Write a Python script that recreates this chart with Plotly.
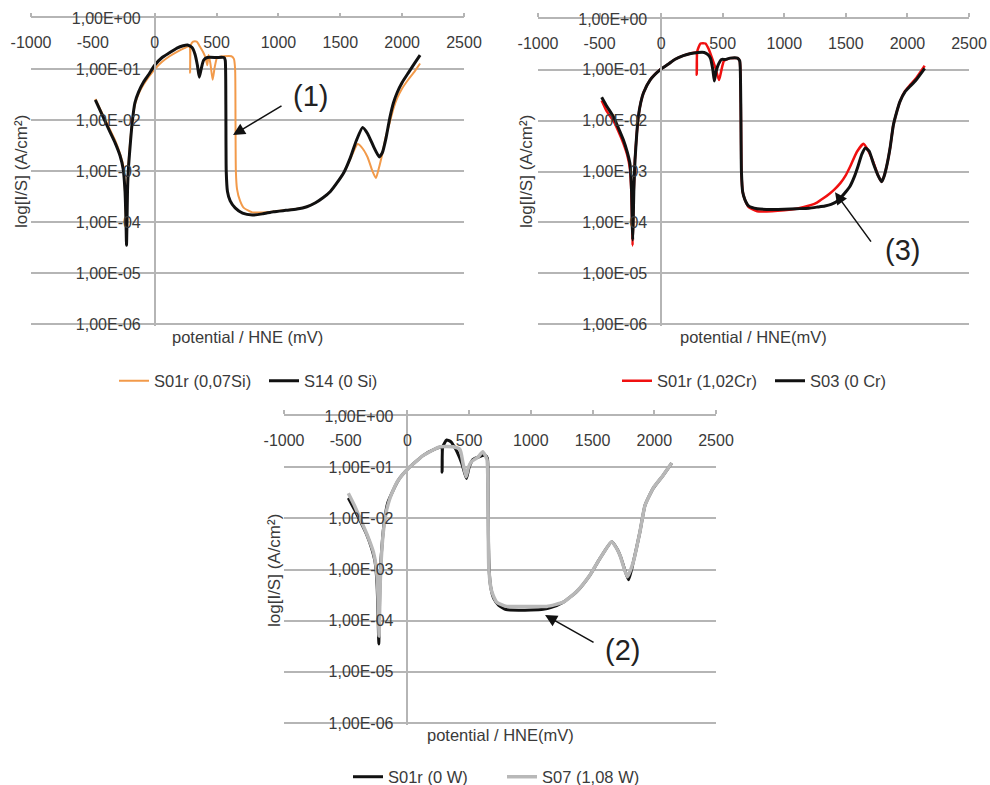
import plotly.graph_objects as go

# ---------------- data (potential in mV, current density in A/cm2) ----------------
# Top-left panel: Si effect
tl_s01r_mv = [-480, -420, -370, -320, -280, -255, -242, -234, -230, -226, -221, -213, -196, -180, -160, -130, -90, -50, 0, 60, 120, 180, 240, 280, 286, 292, 310, 340, 365, 390, 410, 425, 435, 450, 468, 485, 505, 560, 620, 640, 650, 653, 656, 665, 690, 720, 790, 870, 960, 1060, 1150, 1230, 1300, 1360, 1420, 1480, 1530, 1580, 1640, 1670, 1720, 1760, 1788, 1810, 1840, 1870, 1900, 1930, 1960, 2000, 2050, 2100, 2145]
tl_s01r_i = [2.6e-2, 1.3e-2, 7.2e-3, 4e-3, 2.2e-3, 1.3e-3, 5e-4, 1.2e-4, 5e-5, 1.2e-4, 5e-4, 1.4e-3, 4.5e-3, 1e-2, 2e-2, 3.3e-2, 5e-2, 7e-2, 0.10, 0.14, 0.18, 0.22, 0.26, 0.28, 0.085, 0.30, 0.35, 0.35, 0.28, 0.22, 0.17, 0.12, 0.19, 0.13, 0.062, 0.11, 0.17, 0.18, 0.18, 0.16, 0.10, 1e-2, 1e-3, 4.5e-4, 2.6e-4, 1.9e-4, 1.55e-4, 1.55e-4, 1.62e-4, 1.72e-4, 1.82e-4, 2.0e-4, 2.4e-4, 3.0e-4, 4.0e-4, 6.2e-4, 9.5e-4, 1.7e-3, 3.4e-3, 3.0e-3, 1.9e-3, 1.0e-3, 7.3e-4, 1.1e-3, 2.2e-3, 5e-3, 9e-3, 1.7e-2, 2.7e-2, 4.2e-2, 6.3e-2, 9e-2, 0.13]

tl_s14_mv = [-480, -420, -370, -320, -280, -255, -240, -232, -228, -224, -220, -212, -195, -180, -160, -130, -90, -50, 0, 60, 120, 180, 230, 265, 300, 325, 345, 360, 375, 395, 425, 500, 560, 570, 575, 578, 588, 610, 650, 710, 790, 870, 960, 1060, 1150, 1230, 1300, 1360, 1420, 1480, 1530, 1580, 1630, 1680, 1720, 1770, 1815, 1840, 1870, 1900, 1930, 1960, 2000, 2050, 2100, 2145]
tl_s14_i = [2.5e-2, 1.2e-2, 6.5e-3, 3.6e-3, 2.0e-3, 1.1e-3, 4e-4, 1e-4, 3.5e-5, 1e-4, 4e-4, 1.2e-3, 4e-3, 1e-2, 2.2e-2, 3.6e-2, 5.6e-2, 7.8e-2, 0.12, 0.17, 0.21, 0.26, 0.29, 0.30, 0.27, 0.20, 0.12, 0.07, 0.10, 0.15, 0.17, 0.17, 0.17, 0.15, 0.02, 1e-3, 4e-4, 2.6e-4, 1.9e-4, 1.5e-4, 1.38e-4, 1.45e-4, 1.6e-4, 1.7e-4, 1.8e-4, 2.0e-4, 2.4e-4, 3.0e-4, 4.0e-4, 6.2e-4, 9.5e-4, 1.8e-3, 4e-3, 7.2e-3, 5.5e-3, 3e-3, 1.9e-3, 2.3e-3, 4.5e-3, 1.1e-2, 2.2e-2, 3.5e-2, 5.5e-2, 8.5e-2, 0.13, 0.19]

# Top-right panel: Cr effect
tr_s01r_mv = [-483, -440, -388, -345, -307, -275, -255, -242, -236, -232, -228, -223, -213, -198, -185, -165, -144, -90, -9, 60, 110, 180, 240, 285, 289, 293, 320, 360, 385, 410, 440, 470, 490, 510, 560, 620, 638, 645, 648, 652, 662, 680, 710, 780, 900, 1000, 1100, 1160, 1220, 1265, 1320, 1370, 1410, 1455, 1500, 1535, 1590, 1643, 1680, 1724, 1760, 1790, 1810, 1835, 1860, 1885, 1910, 1940, 1980, 2020, 2070, 2140]
tr_s01r_i = [2.5e-2, 1.5e-2, 1e-2, 6e-3, 3.6e-3, 2.1e-3, 1.2e-3, 4e-4, 1e-4, 3.5e-5, 1e-4, 4e-4, 1.7e-3, 5.5e-3, 1.2e-2, 2.3e-2, 3.5e-2, 6.3e-2, 0.10, 0.13, 0.16, 0.19, 0.21, 0.22, 0.08, 0.23, 0.33, 0.33, 0.26, 0.18, 0.11, 0.063, 0.10, 0.15, 0.17, 0.17, 0.15, 0.05, 1e-2, 1e-3, 4e-4, 2.8e-4, 2.0e-4, 1.65e-4, 1.65e-4, 1.72e-4, 1.85e-4, 2.0e-4, 2.2e-4, 2.45e-4, 3.0e-4, 3.7e-4, 4.5e-4, 5.9e-4, 8.5e-4, 1.25e-3, 2.45e-3, 3.5e-3, 2.6e-3, 1.5e-3, 8.5e-4, 6.3e-4, 8e-4, 1.4e-3, 3e-3, 8e-3, 1.4e-2, 2.4e-2, 3.8e-2, 5e-2, 6.8e-2, 0.12]

tr_s03_mv = [-483, -440, -388, -345, -307, -275, -253, -240, -235, -231, -227, -222, -212, -198, -185, -165, -144, -90, -9, 60, 110, 180, 240, 300, 350, 380, 400, 420, 432, 445, 460, 490, 520, 560, 620, 638, 645, 648, 652, 662, 680, 710, 780, 900, 1000, 1100, 1200, 1270, 1330, 1380, 1420, 1455, 1500, 1535, 1570, 1600, 1630, 1660, 1690, 1725, 1760, 1790, 1810, 1835, 1860, 1885, 1910, 1940, 1980, 2020, 2070, 2140]
tr_s03_i = [2.9e-2, 1.9e-2, 1.2e-2, 7e-3, 4.2e-3, 2.4e-3, 1.4e-3, 4e-4, 1e-4, 4.5e-5, 1e-4, 4e-4, 1.7e-3, 5.5e-3, 1.2e-2, 2.3e-2, 3.5e-2, 6.3e-2, 0.10, 0.13, 0.16, 0.19, 0.21, 0.22, 0.22, 0.20, 0.17, 0.10, 0.06, 0.09, 0.12, 0.16, 0.16, 0.17, 0.17, 0.15, 0.05, 1e-2, 1e-3, 4e-4, 2.8e-4, 2.1e-4, 1.85e-4, 1.78e-4, 1.8e-4, 1.85e-4, 1.9e-4, 2.0e-4, 2.1e-4, 2.25e-4, 2.5e-4, 3.0e-4, 4.0e-4, 5.2e-4, 8e-4, 1.3e-3, 2.2e-3, 2.9e-3, 2.5e-3, 1.4e-3, 8.5e-4, 6.3e-4, 8e-4, 1.4e-3, 3e-3, 8e-3, 1.4e-2, 2.4e-2, 3.7e-2, 4.7e-2, 6.3e-2, 0.107]

# Bottom panel: W effect
bt_s01r_mv = [-479, -430, -384, -330, -290, -262, -246, -237, -232, -228, -223, -214, -200, -185, -160, -141, -73, 8, 129, 230, 276, 281, 286, 318, 355, 380, 402, 440, 478, 500, 530, 580, 630, 648, 653, 656, 662, 675, 700, 740, 800, 900, 1000, 1100, 1160, 1263, 1371, 1479, 1560, 1655, 1700, 1730, 1760, 1792, 1830, 1884, 1925, 1992, 2073, 2141]
bt_s01r_i = [2.5e-2, 1.5e-2, 9e-3, 4.8e-3, 2.6e-3, 1.4e-3, 5e-4, 1e-4, 3.5e-5, 1e-4, 5e-4, 1.6e-3, 4.5e-3, 9.5e-3, 2e-2, 2.6e-2, 5.6e-2, 0.095, 0.17, 0.23, 0.25, 0.08, 0.25, 0.34, 0.31, 0.25, 0.20, 0.12, 0.06, 0.10, 0.14, 0.16, 0.17, 0.15, 5e-2, 5e-3, 1e-3, 4.5e-4, 2.7e-4, 2e-4, 1.65e-4, 1.6e-4, 1.62e-4, 1.68e-4, 1.8e-4, 2.3e-4, 3.7e-4, 7.8e-4, 1.65e-3, 3.5e-3, 2.5e-3, 1.7e-3, 1e-3, 6.3e-4, 1.4e-3, 5.5e-3, 1.8e-2, 3.9e-2, 7e-2, 0.12]

bt_s07_mv = [-479, -430, -384, -330, -276, -255, -242, -234, -230, -226, -221, -212, -195, -170, -141, -110, -73, 8, 129, 264, 372, 426, 450, 475, 495, 521, 575, 610, 630, 645, 652, 655, 660, 683, 723, 804, 939, 1128, 1263, 1371, 1479, 1560, 1655, 1690, 1722, 1782, 1830, 1884, 1925, 1992, 2073, 2141]
bt_s07_i = [3.1e-2, 1.8e-2, 1e-2, 5e-3, 2.2e-3, 1.2e-3, 5e-4, 1.2e-4, 5e-5, 1.2e-4, 5e-4, 1.6e-3, 5.5e-3, 1.4e-2, 2.5e-2, 3.8e-2, 5.6e-2, 0.095, 0.17, 0.25, 0.25, 0.22, 0.12, 0.065, 0.10, 0.13, 0.16, 0.20, 0.17, 0.14, 0.05, 5e-3, 1e-3, 3.7e-4, 2.3e-4, 1.9e-4, 1.9e-4, 1.9e-4, 2.3e-4, 3.7e-4, 7.8e-4, 1.65e-3, 3.5e-3, 2.7e-3, 1.9e-3, 7.2e-4, 1.4e-3, 5.5e-3, 1.8e-2, 3.9e-2, 7e-2, 0.12]

# axis ticks
x_tickvals = [-1000, -500, 0, 500, 1000, 1500, 2000, 2500]
x_ticktext = ["-1000", "-500", "0", "500", "1000", "1500", "2000", "2500"]
y_tickvals = [1e-6, 1e-5, 1e-4, 1e-3, 1e-2, 1e-1, 1e0]
y_ticktext = ["1,00E-06", "1,00E-05", "1,00E-04", "1,00E-03", "1,00E-02", "1,00E-01", "1,00E+00"]

legend_names = ["S01r (0,07Si)", "S14 (0 Si)", "S01r (1,02Cr)", "S03 (0 Cr)", "S01r (0 W)", "S07 (1,08 W)"]
y_title = "log[I/S] (A/cm²)"
x_titles = ["potential / HNE (mV)", "potential / HNE(mV)", "potential / HNE(mV)"]

# ---------------- figure ----------------
W, H = 990, 785
FONT = "Liberation Sans, Arial, sans-serif"
TXT = "#3a3a3a"
GRID = "#b5b5b5"
FS = 16


def px(v):
    return v / W


def py(v):
    return 1 - v / H


fig = go.Figure()

line_shape = dict(shape="spline", smoothing=0.5)

fig.add_trace(go.Scatter(x=tl_s01r_mv, y=tl_s01r_i, mode="lines", name=legend_names[0],
                         line=dict(color="#F29A4A", width=2, **line_shape), xaxis="x", yaxis="y", legend="legend"))
fig.add_trace(go.Scatter(x=tl_s14_mv, y=tl_s14_i, mode="lines", name=legend_names[1],
                         line=dict(color="#111111", width=3, **line_shape), xaxis="x", yaxis="y", legend="legend"))
fig.add_trace(go.Scatter(x=tr_s01r_mv, y=tr_s01r_i, mode="lines", name=legend_names[2],
                         line=dict(color="#F01010", width=2.5, **line_shape), xaxis="x2", yaxis="y2", legend="legend2"))
fig.add_trace(go.Scatter(x=tr_s03_mv, y=tr_s03_i, mode="lines", name=legend_names[3],
                         line=dict(color="#111111", width=3, **line_shape), xaxis="x2", yaxis="y2", legend="legend2"))
fig.add_trace(go.Scatter(x=bt_s01r_mv, y=bt_s01r_i, mode="lines", name=legend_names[4],
                         line=dict(color="#111111", width=3, **line_shape), xaxis="x3", yaxis="y3", legend="legend3"))
fig.add_trace(go.Scatter(x=bt_s07_mv, y=bt_s07_i, mode="lines", name=legend_names[5],
                         line=dict(color="#B8B8B8", width=3.5, **line_shape), xaxis="x3", yaxis="y3", legend="legend3"))

# panel geometry in pixels: (left, right, top(1e0), bottom(1e-6))
panels = [(31, 464, 18.3, 324), (538, 969, 19, 324), (284, 716, 416, 723)]


def xaxis_cfg(p, anchor):
    l, r, t, b = p
    return dict(domain=[px(l), px(r)], range=[-1000, 2500], side="top", anchor=anchor, automargin=False,
                showgrid=False, zeroline=False, showline=True, linecolor=GRID, linewidth=1.5,
                ticks="outside", ticklen=4, tickcolor=GRID, tickwidth=1.5,
                tickmode="array", tickvals=x_tickvals, ticktext=x_ticktext,
                ticklabelposition="inside", ticklabeloverflow="allow", ticklabelstandoff=19,
                tickfont=dict(family=FONT, size=FS, color=TXT), fixedrange=True)


def yaxis_cfg(p):
    l, r, t, b = p
    dec = (b - t) / 6.0
    ext = 2.0
    lo = -6 - ext / dec
    zero_px = l + (r - l) * 1000 / 3500
    return dict(domain=[py(b + ext), py(t)], type="log", range=[lo, 0], anchor="free", position=px(zero_px),
                automargin=False,
                showgrid=True, gridcolor=GRID, gridwidth=1.5, zeroline=False,
                showline=True, linecolor=GRID, linewidth=1.5, ticks="",
                tickmode="array", tickvals=y_tickvals, ticktext=y_ticktext, ticklabelstandoff=10,
                tickfont=dict(family=FONT, size=FS, color=TXT), fixedrange=True)


def legend_cfg(xpx, ypx, ew):
    return dict(orientation="h", x=px(xpx), xanchor="left", y=py(ypx), yanchor="middle",
                font=dict(family=FONT, size=16.5, color=TXT), bgcolor="rgba(0,0,0,0)",
                entrywidth=ew, entrywidthmode="pixels", itemwidth=30, traceorder="normal")


annotations = []
# axis titles
for (cx, cy), t in zip([(247, 337), (753, 337), (500, 735)], x_titles):
    annotations.append(dict(x=px(cx), y=py(cy), xref="paper", yref="paper", text=t, showarrow=False,
                            xanchor="center", yanchor="middle", font=dict(family=FONT, size=16.5, color=TXT)))
for cx, cy in [(22, 172), (527, 172), (274, 571)]:
    annotations.append(dict(x=px(cx), y=py(cy), xref="paper", yref="paper", text=y_title, showarrow=False,
                            textangle=-90, xanchor="center", yanchor="middle",
                            font=dict(family=FONT, size=17, color=TXT)))

# callout arrows (head / tail positions in data units of each panel) and labels
callouts = [
    ("x", "y", (633, -2.29), (1037, -1.70), "(1)", (1256, -1.52)),
    ("x2", "y2", (1412, -3.41), (1713, -4.41), "(3)", (1956, -4.54)),
    ("x3", "y3", (1115, -3.89), (1520, -4.44), "(2)", (1739, -4.58)),
]
for xr, yr, head, tail, lab, labpos in callouts:
    annotations.append(dict(x=head[0], y=head[1], xref=xr, yref=yr, ax=tail[0], ay=tail[1],
                            axref=xr, ayref=yr, text="", showarrow=True, arrowhead=2, arrowsize=1.6,
                            arrowwidth=1.5, arrowcolor="#111111"))
    annotations.append(dict(x=labpos[0], y=labpos[1], xref=xr, yref=yr, text=lab, showarrow=False,
                            xanchor="center", yanchor="middle",
                            font=dict(family=FONT, size=29, color="#222222")))

fig.update_layout(
    width=W, height=H, margin=dict(l=0, r=0, t=0, b=0, autoexpand=False),
    paper_bgcolor="white", plot_bgcolor="white",
    xaxis=xaxis_cfg(panels[0], "y"), yaxis=yaxis_cfg(panels[0]),
    xaxis2=xaxis_cfg(panels[1], "y2"), yaxis2=yaxis_cfg(panels[1]),
    xaxis3=xaxis_cfg(panels[2], "y3"), yaxis3=yaxis_cfg(panels[2]),
    legend=legend_cfg(114, 381, 105),
    legend2=legend_cfg(617, 381, 108),
    legend3=legend_cfg(348, 777, 109),
    annotations=annotations,
    showlegend=True,
)

fig.write_html("out.html", config={"displayModeBar": False},
               post_script="document.body.style.margin='0';document.body.style.overflow='hidden';")
